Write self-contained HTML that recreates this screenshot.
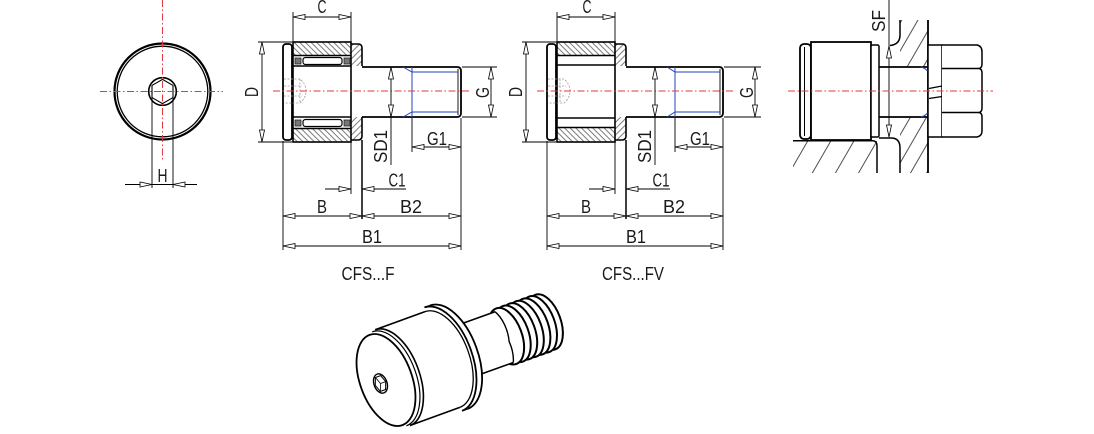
<!DOCTYPE html>
<html><head><meta charset="utf-8">
<style>
html,body{margin:0;padding:0;background:#fff;}
svg{display:block;}
text{font-family:"Liberation Sans",sans-serif;fill:#1a1a1a;font-size:18px;}
</style></head><body>
<svg width="1094" height="434" viewBox="0 0 1094 434" xmlns="http://www.w3.org/2000/svg">
<defs>
<pattern id="hb" width="4" height="4" patternUnits="userSpaceOnUse" patternTransform="rotate(-45)"><rect width="4" height="4" fill="#fff"/><line x1="2" y1="0" x2="2" y2="4" stroke="#444" stroke-width="0.7"/></pattern>
<pattern id="hf" width="4.5" height="4.5" patternUnits="userSpaceOnUse" patternTransform="rotate(45)"><rect width="4.5" height="4.5" fill="#fff"/><line x1="2" y1="0" x2="2" y2="4.5" stroke="#444" stroke-width="0.7"/></pattern>
<pattern id="hw" width="14" height="14" patternUnits="userSpaceOnUse" patternTransform="rotate(30)"><line x1="7" y1="0" x2="7" y2="14" stroke="#222" stroke-width="0.8"/></pattern>
<pattern id="hl" width="20" height="20" patternUnits="userSpaceOnUse" patternTransform="rotate(30)"><line x1="10" y1="0" x2="10" y2="20" stroke="#222" stroke-width="0.8"/></pattern>
</defs>

<!-- ================= LEFT END VIEW ================= -->
<g fill="none" stroke="#000">
  <circle cx="162.5" cy="91.5" r="48" stroke-width="2.2"/>
  <circle cx="162.5" cy="91.5" r="45.3" stroke-width="1.3"/>
  <circle cx="162.5" cy="91.5" r="13.8" stroke-width="1.6"/>
  <polygon points="162.5,79.4 173,85.4 173,97.6 162.5,103.6 152,97.6 152,85.4" stroke-width="1.1"/>
  <path d="M152 98 V188 M173 98 V188" stroke-width="0.9"/>
  <path d="M125 184.5 H197" stroke-width="0.9"/>
  <polygon points="152,184.5 140,182 140,187" fill="#fff" stroke-width="0.8"/>
  <polygon points="173,184.5 185,182 185,187" fill="#fff" stroke-width="0.8"/>
</g>
<path d="M162.5 0 V160 M100 91.5 H223" stroke="#e0393e" stroke-width="1" stroke-dasharray="7 2.5 1.5 2.5" fill="none"/>
<text x="162.5" y="182" text-anchor="middle" textLength="10" lengthAdjust="spacingAndGlyphs">H</text>

<!-- ================= DRAWING 1: CFS...F ================= -->
<g fill="none" stroke="#000">
  <rect x="293" y="42" width="58" height="13.5" fill="url(#hb)" stroke="none"/>
  <rect x="293" y="128.5" width="58" height="13.5" fill="url(#hb)" stroke="none"/>
  <path d="M351 44 H358 Q362 44 362 48 V66 H351 Z" fill="url(#hf)" stroke="none"/>
  <path d="M351 117 H362 V136 Q362 140 358 140 H351 Z" fill="url(#hf)" stroke="none"/>
  <rect x="293" y="42" width="58" height="100" stroke-width="1.6"/>
  <path d="M293 55.5 H351 M293 128.5 H351" stroke-width="1.4"/>
  <path d="M293 66 H351 M293 117 H351" stroke-width="1.6"/>
  <rect x="303" y="57.5" width="39" height="7" rx="2.5" stroke-width="1.2"/>
  <rect x="303" y="119.5" width="39" height="7" rx="2.5" stroke-width="1.2"/>
  <rect x="295" y="58" width="6" height="6" fill="#777" stroke="#222" stroke-width="0.8"/>
  <rect x="344" y="58" width="6" height="6" fill="#777" stroke="#222" stroke-width="0.8"/>
  <rect x="295" y="120" width="6" height="6" fill="#777" stroke="#222" stroke-width="0.8"/>
  <rect x="344" y="120" width="6" height="6" fill="#777" stroke="#222" stroke-width="0.8"/>
  <path d="M351 44 H358 Q362 44 362 48 V66 M351 140 H358 Q362 140 362 136 V117" stroke-width="1.6"/>
  <rect x="283" y="44" width="9" height="96" rx="3" stroke-width="1.8"/>
  <path d="M362 67 H457 Q461 67 461 71 V113 Q461 117 457 117 H362" stroke-width="1.8"/>
  <path d="M458 69 V115" stroke-width="0.9"/>
</g>
<g fill="none" stroke="#9a9a9a" stroke-width="0.8" stroke-dasharray="2 1.5">
  <path d="M284 79 H300 Q306 84 306 91 Q306 98 300 103 H284"/>
  <path d="M284 86 H302 M284 96 H302 M300 79 V103"/>
</g>
<path d="M403 67 L412 72 H458 M403 117 L412 112 H458 M412 67 V117" stroke="#2244bb" stroke-width="1" fill="none"/>
<path d="M273 91 H470" stroke="#e0393e" stroke-width="1" stroke-dasharray="7 2.5 1.5 2.5" fill="none"/>
<g fill="none" stroke="#000" stroke-width="0.9">
  <path d="M293 12 V42 M351 12 V44 M293 17 H351"/>
  <path d="M258 42 H292 M258 142 H292 M262 42 V142"/>
  <path d="M391 67 V165"/>
  <path d="M462 67 H497 M462 117 H497 M491 67 V117"/>
  <path d="M412 118 V152 M461 118 V250 M412 147 H461"/>
  <path d="M351 142 V194 M325 189 H351 M362 189 H406"/>
  <path d="M362 140 V219" stroke-width="1.5"/>
  <path d="M283 141 V250 M283 216 H461 M283 246 H461"/>
</g>
<g fill="#fff" stroke="#000" stroke-width="0.8">
  <polygon points="293,17 305,14.5 305,19.5"/><polygon points="351,17 339,14.5 339,19.5"/>
  <polygon points="262,42 259.5,54 264.5,54"/><polygon points="262,142 259.5,130 264.5,130"/>
  <polygon points="391,67 388.5,79 393.5,79"/><polygon points="391,117 388.5,105 393.5,105"/>
  <polygon points="491,67 488.5,79 493.5,79"/><polygon points="491,117 488.5,105 493.5,105"/>
  <polygon points="412,147 424,144.5 424,149.5"/><polygon points="461,147 449,144.5 449,149.5"/>
  <polygon points="351,189 339,186.5 339,191.5"/><polygon points="362,189 374,186.5 374,191.5"/>
  <polygon points="283,216 295,213.5 295,218.5"/><polygon points="362,216 350,213.5 350,218.5"/>
  <polygon points="362,216 374,213.5 374,218.5"/><polygon points="461,216 449,213.5 449,218.5"/>
  <polygon points="283,246 295,243.5 295,248.5"/><polygon points="461,246 449,243.5 449,248.5"/>
</g>
<text x="322" y="13" text-anchor="middle" textLength="9" lengthAdjust="spacingAndGlyphs">C</text>
<text transform="translate(258,92) rotate(-90)" text-anchor="middle" textLength="10" lengthAdjust="spacingAndGlyphs">D</text>
<text transform="translate(387,146.5) rotate(-90)" text-anchor="middle" textLength="33" lengthAdjust="spacingAndGlyphs">SD1</text>
<text transform="translate(489,92.5) rotate(-90)" text-anchor="middle" textLength="11" lengthAdjust="spacingAndGlyphs">G</text>
<text x="437" y="145" text-anchor="middle" textLength="20" lengthAdjust="spacingAndGlyphs">G1</text>
<text x="397" y="186.5" text-anchor="middle" textLength="17" lengthAdjust="spacingAndGlyphs">C1</text>
<text x="322" y="213" text-anchor="middle" textLength="10" lengthAdjust="spacingAndGlyphs">B</text>
<text x="411" y="213" text-anchor="middle" textLength="22" lengthAdjust="spacingAndGlyphs">B2</text>
<text x="372" y="243" text-anchor="middle" textLength="20" lengthAdjust="spacingAndGlyphs">B1</text>
<text x="368" y="280" text-anchor="middle" textLength="53" lengthAdjust="spacingAndGlyphs">CFS...F</text>

<!-- ================= DRAWING 2: CFS...FV ================= -->
<g transform="translate(264,0)">
<g fill="none" stroke="#000">
  <rect x="293" y="42" width="58" height="13.5" fill="url(#hb)" stroke="none"/>
  <rect x="293" y="127.5" width="58" height="14.5" fill="url(#hb)" stroke="none"/>
  <path d="M351 44 H358 Q362 44 362 48 V66 H351 Z" fill="url(#hf)" stroke="none"/>
  <path d="M351 117 H362 V136 Q362 140 358 140 H351 Z" fill="url(#hf)" stroke="none"/>
  <rect x="293" y="42" width="58" height="100" stroke-width="1.6"/>
  <path d="M293 55.5 H351 M293 127.5 H351" stroke-width="1.6"/>
  <path d="M293 65 H351 M293 118 H351" stroke-width="1.6"/>
  <path d="M351 44 H358 Q362 44 362 48 V66 M351 140 H358 Q362 140 362 136 V117" stroke-width="1.6"/>
  <rect x="283" y="44" width="9" height="96" rx="3" stroke-width="1.8"/>
  <path d="M362 67 H455 Q459 67 459 71 V113 Q459 117 455 117 H362" stroke-width="1.8"/>
  <path d="M456 69 V115" stroke-width="0.9"/>
</g>
<g fill="none" stroke="#9a9a9a" stroke-width="0.8" stroke-dasharray="2 1.5">
  <path d="M284 79 H300 Q306 84 306 91 Q306 98 300 103 H284"/>
  <path d="M284 86 H302 M284 96 H302 M296 79 V103"/>
</g>
<path d="M403 67 L411 72 H456 M403 117 L411 112 H456 M411 67 V117" stroke="#2244bb" stroke-width="1" fill="none"/>
<path d="M273 91 H471" stroke="#e0393e" stroke-width="1" stroke-dasharray="7 2.5 1.5 2.5" fill="none"/>
<g fill="none" stroke="#000" stroke-width="0.9">
  <path d="M293 12 V42 M351 12 V44 M293 17 H351"/>
  <path d="M258 42 H292 M258 142 H292 M262 42 V142"/>
  <path d="M391 67 V165"/>
  <path d="M460 67 H497 M460 117 H497 M491 67 V117"/>
  <path d="M411 118 V152 M459 118 V250 M411 147 H459"/>
  <path d="M351 142 V194 M325 189 H351 M362 189 H406"/>
  <path d="M362 140 V219" stroke-width="1.5"/>
  <path d="M283 141 V250 M283 216 H459 M283 246 H459"/>
</g>
<g fill="#fff" stroke="#000" stroke-width="0.8">
  <polygon points="293,17 305,14.5 305,19.5"/><polygon points="351,17 339,14.5 339,19.5"/>
  <polygon points="262,42 259.5,54 264.5,54"/><polygon points="262,142 259.5,130 264.5,130"/>
  <polygon points="391,67 388.5,79 393.5,79"/><polygon points="391,117 388.5,105 393.5,105"/>
  <polygon points="491,67 488.5,79 493.5,79"/><polygon points="491,117 488.5,105 493.5,105"/>
  <polygon points="411,147 423,144.5 423,149.5"/><polygon points="459,147 447,144.5 447,149.5"/>
  <polygon points="351,189 339,186.5 339,191.5"/><polygon points="362,189 374,186.5 374,191.5"/>
  <polygon points="283,216 295,213.5 295,218.5"/><polygon points="362,216 350,213.5 350,218.5"/>
  <polygon points="362,216 374,213.5 374,218.5"/><polygon points="459,216 447,213.5 447,218.5"/>
  <polygon points="283,246 295,243.5 295,248.5"/><polygon points="459,246 447,243.5 447,248.5"/>
</g>
</g>
<text x="587" y="13" text-anchor="middle" textLength="9" lengthAdjust="spacingAndGlyphs">C</text>
<text transform="translate(522,92) rotate(-90)" text-anchor="middle" textLength="10" lengthAdjust="spacingAndGlyphs">D</text>
<text transform="translate(651,146.5) rotate(-90)" text-anchor="middle" textLength="33" lengthAdjust="spacingAndGlyphs">SD1</text>
<text transform="translate(753,92.5) rotate(-90)" text-anchor="middle" textLength="11" lengthAdjust="spacingAndGlyphs">G</text>
<text x="700" y="145" text-anchor="middle" textLength="20" lengthAdjust="spacingAndGlyphs">G1</text>
<text x="661" y="186.5" text-anchor="middle" textLength="17" lengthAdjust="spacingAndGlyphs">C1</text>
<text x="586" y="213" text-anchor="middle" textLength="10" lengthAdjust="spacingAndGlyphs">B</text>
<text x="674" y="213" text-anchor="middle" textLength="22" lengthAdjust="spacingAndGlyphs">B2</text>
<text x="636" y="243" text-anchor="middle" textLength="20" lengthAdjust="spacingAndGlyphs">B1</text>
<text x="633" y="280" text-anchor="middle" textLength="62" lengthAdjust="spacingAndGlyphs">CFS...FV</text>

<!-- ================= DRAWING 3: MOUNTED ================= -->
<rect x="793" y="141" width="84" height="32" fill="url(#hl)"/>
<path d="M900 20 V67 H928 V20 Z" fill="url(#hw)"/>
<path d="M900 117 V173 H928 V117 Z" fill="url(#hw)"/>
<g fill="none" stroke="#000">
  <rect x="800" y="44" width="11" height="95" rx="4" fill="#fff" stroke-width="1.8"/>
  <path d="M804.5 47 V136" stroke-width="1"/>
  <rect x="811" y="42" width="60" height="98" fill="#fff" stroke-width="1.8"/>
  <rect x="871" y="45" width="8" height="92" rx="1.5" fill="#fff" stroke-width="1.5"/>
  <path d="M879 67 H928 M879 117 H928" stroke-width="1.8"/>
  <path d="M900 20 V35 Q900 44.5 890 45.5" stroke-width="1.5"/>
  <path d="M879 138 H891 Q900 138 900 148 V173" stroke-width="1.5"/>
  <path d="M793 140.8 H873 Q877 141 877 146 V173" stroke-width="1.5"/>
  <path d="M928 20 V173" stroke-width="1.8"/>
  <rect x="928" y="45" width="14" height="92" fill="#fff" stroke-width="1.5"/>
  <path d="M942 45 H977 Q982 46 982 52 V64 Q982 68 979 68.5 Q982 69 982 73 V108 Q982 112 979 112.5 Q982 113 982 117 V131 Q982 136 977 137 H942" fill="#fff" stroke-width="1.5"/>
  <path d="M942 68.5 H979 M942 112.5 H979" stroke-width="1.4"/>
  <path d="M929 88.5 L942 86 M929 98.5 L942 96.5" stroke-width="1.2"/>
  <path d="M889 0 V137" stroke-width="0.9"/>
</g>
<path d="M921 67 Q925 68 927.5 71 M921 117 Q925 116 927.5 113" stroke="#2244bb" stroke-width="1" fill="none"/>
<g fill="#fff" stroke="#000" stroke-width="0.8">
  <polygon points="889,46 886.5,58 891.5,58"/><polygon points="889,137 886.5,125 891.5,125"/>
</g>
<path d="M788 91 H993" stroke="#e0393e" stroke-width="1" stroke-dasharray="7 2.5 1.5 2.5" fill="none"/>
<text transform="translate(885,21) rotate(-90)" text-anchor="middle" textLength="22" lengthAdjust="spacingAndGlyphs">SF</text>

<!-- ================= 3D VIEW ================= -->
<g fill="#fff" stroke="#000" stroke-linejoin="round">
  <!-- thread rings, far to near -->
  <ellipse cx="545.5" cy="322" rx="15.2" ry="29" transform="rotate(-20 545.5 322)" stroke-width="2"/>
  <ellipse cx="539.2" cy="324.3" rx="15.6" ry="29.5" transform="rotate(-20 539.2 324.3)" stroke-width="2"/>
  <ellipse cx="532.6" cy="326.6" rx="15.6" ry="29.5" transform="rotate(-20 532.6 326.6)" stroke-width="2"/>
  <ellipse cx="526" cy="329" rx="15.6" ry="29.5" transform="rotate(-20 526 329)" stroke-width="2"/>
  <ellipse cx="519.4" cy="331.4" rx="15.6" ry="29.5" transform="rotate(-20 519.4 331.4)" stroke-width="2"/>
  <ellipse cx="512.9" cy="333.8" rx="15.6" ry="29.5" transform="rotate(-20 512.9 333.8)" stroke-width="2"/>
  <ellipse cx="506.3" cy="336.2" rx="15.6" ry="29.5" transform="rotate(-20 506.3 336.2)" stroke-width="2"/>
  <!-- shaft fill -->
  <path d="M452 327.2 L495 311.7 A14.3 27 -20 0 1 509.1 341.4 A14.3 27 -20 0 1 513.3 362.5 L470.4 378 Z" stroke="none"/>
  <path d="M463.6 323 L495 311.7 M482 373.8 L513.3 362.5" fill="none" stroke-width="1.6"/>
  <path d="M495 311.7 A14.3 27 -20 0 1 509.1 341.4 A14.3 27 -20 0 1 513.3 362.5" fill="none" stroke-width="1.4"/>
  <!-- rim -->
  <path d="M430.2 305.4 A29 55 -20 0 1 476.2 347.2 A29 55 -20 0 1 467.8 408.8" stroke-width="1.8"/>
  <path d="M424.5 307.4 A29 55 -20 0 1 470.6 349.2 A29 55 -20 0 1 462.1 410.8" stroke-width="1.8"/>
  <path d="M424.5 307.4 L430.2 305.4 M462.1 410.8 L467.8 408.8" fill="none" stroke-width="1.4"/>
  <path d="M425 311.6 A27 51 -20 0 1 467.8 350.3 A27 51 -20 0 1 459.8 407.4" fill="none" stroke-width="1.3"/>
  <!-- body -->
  <path d="M375.2 329.7 L425 311.6 M410 425.5 L459.8 407.4" fill="none" stroke-width="1.6"/>
  <path d="M372.2 331.8 A27 50 -20 0 1 414.7 369.6 A27 50 -20 0 1 406.4 425.8" fill="none" stroke-width="1.2"/>
  <path d="M375.2 329.7 A27 51 -20 0 1 418 368.4 A27 51 -20 0 1 410 425.5" fill="none" stroke-width="1.6"/>
  <!-- front face -->
  <ellipse cx="386" cy="380" rx="26" ry="48" transform="rotate(-20 386 380)" stroke-width="1.8"/>
  <ellipse cx="380.5" cy="383.5" rx="6.5" ry="10" transform="rotate(-20 380.5 383.5)" fill="none" stroke-width="1.4"/>
  <polygon points="385.7,381.6 385.6,389.5 380.4,391.4 375.3,385.4 375.4,377.5 380.6,375.6" fill="none" stroke-width="1"/>
  <path d="M380.5 383.5 L385.7 381.6 M380.5 383.5 L380.4 391.4 M380.5 383.5 L375.4 377.5" fill="none" stroke-width="0.8"/>
</g>
</svg>
</body></html>
